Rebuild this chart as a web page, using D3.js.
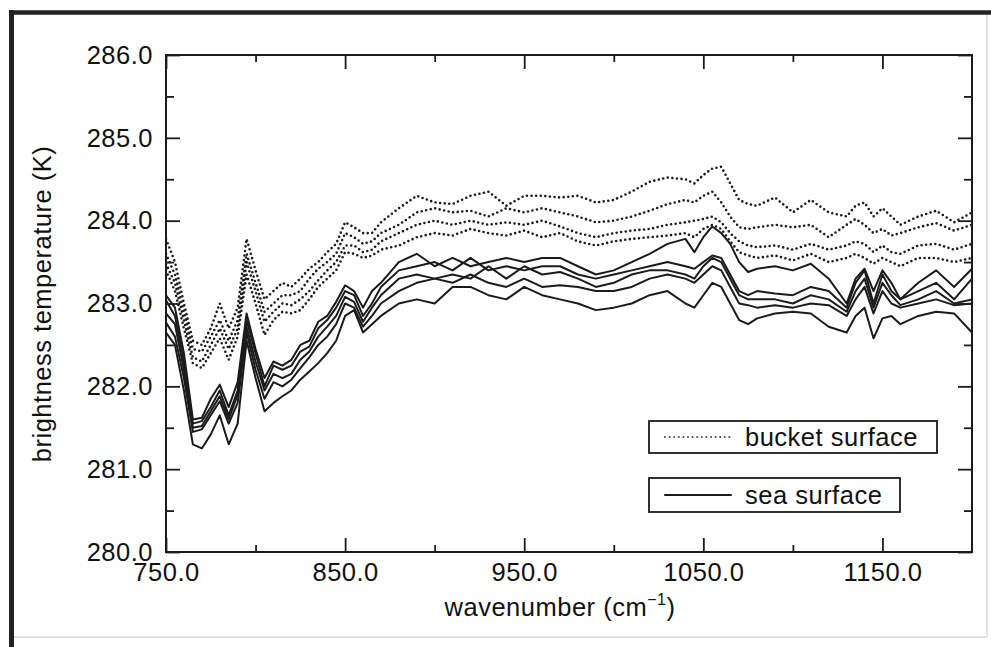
<!DOCTYPE html>
<html lang="en">
<head>
  <meta charset="UTF-8">
  <title>Brightness temperature spectra</title>
  <script src="https://d3js.org/d3.v7.min.js"></script>
  <style>
    body, html {
      margin: 0;
      background-color: #fff;
    }
    svg text {
      font-family: 'Liberation Sans', Arial, sans-serif;
      fill: #111;
      letter-spacing: 0.5px;
    }
  </style>
</head>
<body>
<svg id="chart" width="991" height="647"></svg>

<script>
  // wavenumber grid (cm^-1)
  const wavenumber = [750, 755, 760, 765, 770, 775, 780, 785, 790, 795, 800, 805, 810, 815, 820, 825, 830, 835, 840, 845, 850, 855, 860, 865, 870,
    880, 890, 900, 910, 920, 930, 940, 950, 960, 970, 980, 990, 1000, 1010, 1020, 1030, 1040,
    1045, 1050, 1055, 1060, 1065, 1070, 1075, 1080,
    1090, 1100, 1110, 1120, 1130,
    1135, 1140, 1145, 1150, 1155, 1160,
    1170, 1180, 1190, 1200];

  // bucket surface spectra (dotted)
  const bucket1 = [283.78, 283.5, 283.0, 282.55, 282.5, 282.7, 283.0, 282.7, 282.95, 283.78, 283.4, 283.05, 283.15, 283.25, 283.2, 283.3, 283.42, 283.5, 283.62, 283.72, 283.98, 283.92, 283.85, 283.85, 283.98,
    284.15, 284.3, 284.22, 284.2, 284.3, 284.35, 284.18, 284.3, 284.3, 284.28, 284.3, 284.22, 284.25, 284.35, 284.47, 284.52, 284.5,
    284.45, 284.55, 284.63, 284.65, 284.45, 284.25, 284.2, 284.18,
    284.28, 284.1, 284.25, 284.1, 284.05,
    284.18, 284.22, 284.05, 284.15, 284.05, 283.95,
    284.05, 284.12, 283.98, 284.1];
  const bucket2 = [283.6, 283.35, 282.9, 282.45, 282.42, 282.6, 282.8, 282.55, 282.8, 283.6, 283.25, 282.9, 283.0, 283.1, 283.1, 283.15, 283.3, 283.42, 283.5, 283.6, 283.85, 283.8, 283.72, 283.75, 283.85,
    283.95, 284.1, 284.15, 284.1, 284.12, 284.05, 284.15, 284.1, 284.15, 284.1, 284.05, 283.98, 284.0, 284.05, 284.12, 284.2, 284.25,
    284.22, 284.3, 284.35, 284.22, 284.05, 283.92, 283.9, 283.92,
    283.95, 283.92, 283.95, 283.8, 283.95,
    284.02, 283.95, 283.85, 283.9, 283.82, 283.85,
    283.92, 283.97, 283.88, 283.95];
  const bucket3 = [283.48, 283.25, 282.8, 282.35, 282.3, 282.5, 282.7, 282.45, 282.7, 283.5, 283.15, 282.78, 282.9, 283.0, 282.98, 283.05, 283.15, 283.28, 283.4, 283.5, 283.7, 283.7, 283.62, 283.65, 283.75,
    283.85, 283.95, 284.0, 283.95, 284.0, 283.95, 283.98, 283.95, 284.0, 283.93, 283.85, 283.8, 283.85, 283.88, 283.9, 283.95, 283.98,
    284.0, 284.02, 284.05, 283.98, 283.85, 283.75, 283.7, 283.68,
    283.7, 283.65, 283.72, 283.65, 283.7,
    283.75, 283.72, 283.62, 283.7, 283.62, 283.6,
    283.7, 283.72, 283.65, 283.72];
  const bucket4 = [283.4, 283.15, 282.7, 282.28, 282.22, 282.4, 282.58, 282.32, 282.6, 283.35, 283.0, 282.62, 282.8, 282.9, 282.88, 282.92, 283.05, 283.2, 283.3, 283.4, 283.62, 283.6, 283.55, 283.58, 283.65,
    283.7, 283.8, 283.85, 283.82, 283.9, 283.85, 283.82, 283.88, 283.8, 283.85, 283.75, 283.7, 283.75, 283.78, 283.8, 283.82, 283.85,
    283.8, 283.9, 283.95, 283.9, 283.75, 283.62, 283.58, 283.55,
    283.58, 283.52, 283.6, 283.5, 283.55,
    283.6, 283.55, 283.48, 283.55, 283.5, 283.45,
    283.55, 283.55, 283.5, 283.55];

  // sea surface spectra (solid)
  const sea1 = [283.1, 282.95, 282.4, 281.6, 281.62, 281.85, 282.02, 281.75, 282.05, 282.88, 282.45, 282.1, 282.3, 282.25, 282.32, 282.5, 282.55, 282.78, 282.85, 283.02, 283.22, 283.15, 282.95, 283.15, 283.25,
    283.5, 283.6, 283.45, 283.55, 283.45, 283.5, 283.55, 283.5, 283.55, 283.55, 283.45, 283.35, 283.4, 283.5, 283.6, 283.72, 283.78,
    283.62, 283.8, 283.93, 283.85, 283.72, 283.5, 283.38, 283.42,
    283.45, 283.4, 283.48, 283.3, 283.0,
    283.3, 283.42, 283.15, 283.4, 283.25, 283.05,
    283.25, 283.4, 283.2, 283.42];
  const sea2 = [283.04, 282.85, 282.3, 281.55, 281.58, 281.75, 281.95, 281.65, 281.95, 282.8, 282.4, 282.0, 282.25, 282.2, 282.25, 282.42, 282.48, 282.7, 282.8, 282.95, 283.15, 283.1, 282.85, 283.0, 283.2,
    283.4, 283.45, 283.5, 283.4, 283.55, 283.4, 283.45, 283.4, 283.45, 283.45, 283.35, 283.3, 283.35, 283.4, 283.45, 283.5, 283.45,
    283.42, 283.5, 283.58, 283.55, 283.35, 283.15, 283.1, 283.15,
    283.12, 283.1, 283.2, 283.15, 282.95,
    283.25, 283.4, 283.0, 283.35, 283.15, 283.05,
    283.15, 283.25, 283.05, 283.3];
  const sea3 = [282.88, 282.75, 282.2, 281.5, 281.52, 281.7, 281.88, 281.6, 281.9, 282.72, 282.3, 281.95, 282.15, 282.1, 282.15, 282.32, 282.42, 282.6, 282.72, 282.85, 283.08, 283.02, 282.78, 282.95, 283.1,
    283.3, 283.35, 283.3, 283.35, 283.3, 283.45, 283.3, 283.45, 283.35, 283.38, 283.3, 283.2, 283.25, 283.35, 283.4, 283.4, 283.35,
    283.3, 283.45, 283.55, 283.5, 283.3, 283.1, 283.05, 283.05,
    283.05, 283.0, 283.1, 283.05, 282.9,
    283.15, 283.3, 282.95, 283.25, 283.1, 282.98,
    283.05, 283.15, 283.0, 283.05];
  const sea4 = [282.77, 282.6, 282.1, 281.45, 281.48, 281.65, 281.82, 281.55, 281.8, 282.65, 282.2, 281.85, 282.05, 282.0, 282.08, 282.22, 282.35, 282.5, 282.6, 282.75, 283.0, 282.95, 282.72, 282.85, 283.0,
    283.15, 283.25, 283.3, 283.25, 283.35, 283.25, 283.2, 283.3, 283.2, 283.22, 283.2, 283.15, 283.15, 283.2, 283.3, 283.35, 283.3,
    283.25, 283.35, 283.45, 283.4, 283.2, 283.0, 282.98, 282.95,
    282.98, 282.95, 283.0, 282.98, 282.85,
    283.05, 283.2, 282.88, 283.15, 283.0, 282.95,
    283.0, 283.05, 282.98, 283.0];
  const sea5 = [282.65, 282.5, 281.95, 281.3, 281.25, 281.42, 281.65, 281.3, 281.55, 282.55, 282.1, 281.7, 281.8, 281.88, 281.95, 282.08, 282.18, 282.28, 282.4, 282.55, 282.85, 282.92, 282.65, 282.75, 282.85,
    283.0, 283.05, 283.0, 283.2, 283.2, 283.1, 283.05, 283.2, 283.1, 283.05, 283.0, 282.92, 282.95, 283.0, 283.1, 283.15, 283.0,
    282.95, 283.1, 283.25, 283.2, 283.0, 282.8, 282.75, 282.82,
    282.88, 282.9, 282.88, 282.72, 282.65,
    282.85, 282.95, 282.58, 282.82, 282.85, 282.75,
    282.85, 282.9, 282.88, 282.65];

  const bucketSeries = [bucket1, bucket2, bucket3, bucket4];
  const seaSeries = [sea1, sea2, sea3, sea4, sea5];

  const xMajor = [750, 850, 950, 1050, 1150];
  const xMinor = [800, 900, 1000, 1100];
  const yMajor = [280, 281, 282, 283, 284, 285, 286];
  const yMinor = [280.5, 281.5, 282.5, 283.5, 284.5, 285.5];

  const legendLabels = ["bucket surface", "sea surface"];

  const svg = d3.select("#chart");
  const ink = "#1b1b1b";
  const fontSize = "25.5px";

  // scanned page frame
  svg.append("line").attr("x1", 12).attr("x2", 991).attr("y1", 12.5).attr("y2", 12.5)
          .attr("stroke", "#222").attr("stroke-width", 4.5);
  svg.append("line").attr("x1", 11.5).attr("x2", 11.5).attr("y1", 10).attr("y2", 647)
          .attr("stroke", "#222").attr("stroke-width", 5);
  svg.append("line").attr("x1", 14).attr("x2", 987).attr("y1", 637).attr("y2", 637)
          .attr("stroke", "#e2e2e2").attr("stroke-width", 2);
  svg.append("line").attr("x1", 987).attr("x2", 987).attr("y1", 15).attr("y2", 637)
          .attr("stroke", "#e2e2e2").attr("stroke-width", 2);

  const margin = { top: 55, left: 166 };
  const width = 806;
  const height = 497;

  const x = d3.scaleLinear().domain([750, 1200]).range([0, width]);
  const y = d3.scaleLinear().domain([280, 286]).range([height, 0]);

  const g = svg.append("g").attr("transform", `translate(${margin.left},${margin.top})`);

  g.append("clipPath").attr("id", "plot-clip")
          .append("rect").attr("width", width).attr("height", height);

  const line = d3.line()
          .x((d, i) => x(wavenumber[i]))
          .y(d => y(d));

  const plot = g.append("g").attr("clip-path", "url(#plot-clip)");

  plot.selectAll(".bucket")
          .data(bucketSeries)
          .join("path")
          .attr("class", "bucket")
          .attr("d", line)
          .attr("fill", "none")
          .attr("stroke", ink)
          .attr("stroke-width", 2.6)
          .attr("stroke-linecap", "round")
          .attr("stroke-dasharray", "0 4.6");

  plot.selectAll(".sea")
          .data(seaSeries)
          .join("path")
          .attr("class", "sea")
          .attr("d", line)
          .attr("fill", "none")
          .attr("stroke", ink)
          .attr("stroke-width", 2)
          .attr("stroke-linejoin", "round");

  // axes: ticks point inward on all four sides
  const fmt = d3.format(".1f");
  const styleAxis = sel => {
    sel.select(".domain").remove();
    sel.selectAll("line").attr("stroke", ink).attr("stroke-width", 1.8);
    sel.selectAll("text").style("font-family", "'Liberation Sans', Arial, sans-serif")
            .style("font-size", fontSize).attr("fill", "#111");
  };

  g.append("g").call(d3.axisLeft(y).tickValues(yMajor).tickFormat(fmt).tickSizeInner(-14).tickPadding(13)).call(styleAxis);
  g.append("g").call(d3.axisLeft(y).tickValues(yMinor).tickFormat("").tickSizeInner(-8)).call(styleAxis);
  g.append("g").attr("transform", `translate(${width},0)`)
          .call(d3.axisRight(y).tickValues(yMajor).tickFormat("").tickSizeInner(-14)).call(styleAxis);
  g.append("g").attr("transform", `translate(${width},0)`)
          .call(d3.axisRight(y).tickValues(yMinor).tickFormat("").tickSizeInner(-8)).call(styleAxis);

  g.append("g").attr("transform", `translate(0,${height})`)
          .call(d3.axisBottom(x).tickValues(xMajor).tickFormat(fmt).tickSizeInner(-14).tickPadding(11)).call(styleAxis);
  g.append("g").attr("transform", `translate(0,${height})`)
          .call(d3.axisBottom(x).tickValues(xMinor).tickFormat("").tickSizeInner(-7)).call(styleAxis);
  g.append("g").call(d3.axisTop(x).tickValues(xMajor).tickFormat("").tickSizeInner(-14)).call(styleAxis);
  g.append("g").call(d3.axisTop(x).tickValues(xMinor).tickFormat("").tickSizeInner(-7)).call(styleAxis);

  g.append("rect")
          .attr("width", width).attr("height", height)
          .attr("fill", "none").attr("stroke", ink).attr("stroke-width", 2);

  // axis titles
  const xTitle = svg.append("text")
          .attr("x", 560).attr("y", 616)
          .attr("text-anchor", "middle")
          .style("font-size", fontSize);
  xTitle.append("tspan").text("wavenumber (cm");
  xTitle.append("tspan").attr("dy", -11).style("font-size", "16px").text("−1");
  xTitle.append("tspan").attr("dy", 11).text(")");

  svg.append("text")
          .attr("transform", "translate(51,304) rotate(-90)")
          .attr("text-anchor", "middle")
          .style("font-size", fontSize)
          .text("brightness temperature (K)");

  // legend
  const legendBoxes = [
    { x: 649, y: 421, w: 288, h: 32, dash: "0 4.6", sw: 2.2 },
    { x: 649, y: 478, w: 251, h: 34, dash: null, sw: 2 }
  ];
  legendBoxes.forEach((b, i) => {
    const lg = svg.append("g");
    lg.append("rect").attr("x", b.x).attr("y", b.y).attr("width", b.w).attr("height", b.h)
            .attr("fill", "#fff").attr("stroke", ink).attr("stroke-width", 1.8);
    lg.append("line")
            .attr("x1", b.x + 16).attr("x2", b.x + 82)
            .attr("y1", b.y + b.h / 2).attr("y2", b.y + b.h / 2)
            .attr("stroke", i === 0 ? "#555" : ink)
            .attr("stroke-width", b.sw)
            .attr("stroke-linecap", "round")
            .attr("stroke-dasharray", b.dash);
    lg.append("text")
            .attr("x", b.x + 96).attr("y", b.y + b.h / 2 + 9)
            .style("font-size", fontSize)
            .text(legendLabels[i]);
  });
</script>
</body>
</html>
